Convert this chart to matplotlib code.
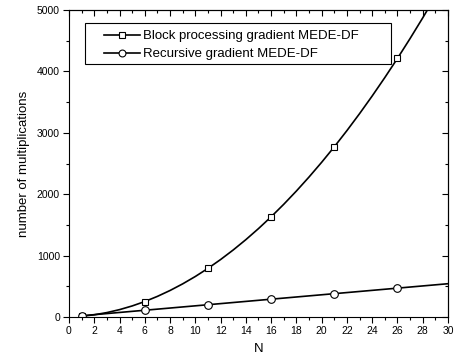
import matplotlib
matplotlib.use("Agg")
import matplotlib.pyplot as plt
from matplotlib.ticker import MultipleLocator
from matplotlib.patches import Rectangle

plt.rcParams['font.family'] = ['Liberation Sans', 'DejaVu Sans']

N = list(range(1, 31))
block = [12, 36, 72, 120, 180, 252, 336, 432, 540, 660, 792, 936, 1092, 1260, 1440,
         1632, 1836, 2052, 2280, 2520, 2772, 3036, 3312, 3600, 3900, 4212, 4536, 4872,
         5220, 5580]
recursive = [20, 38, 56, 74, 92, 110, 128, 146, 164, 182, 200, 218, 236, 254, 272,
             290, 308, 326, 344, 362, 380, 398, 416, 434, 452, 470, 488, 506, 524, 542]
labels = ["Block processing gradient MEDE-DF", "Recursive gradient MEDE-DF"]

W, H = 456, 359
fig = plt.figure(figsize=(W/100, H/100), dpi=100)
ax = fig.add_axes([69/W, 1-317/H, (448-69)/W, (317-10)/H])

ax.plot(N, block, color='black', lw=1.2, marker='s', markevery=(0, 5), ms=5,
        mfc='white', mec='black', mew=0.8, label=labels[0])
ax.plot(N, recursive, color='black', lw=1.2, marker='o', markevery=(0, 5), ms=5.5,
        mfc='white', mec='black', mew=0.8, label=labels[1])

ax.set_xlim(0, 30)
ax.set_ylim(0, 5000)
ax.xaxis.set_major_locator(MultipleLocator(2))
ax.xaxis.set_minor_locator(MultipleLocator(1))
ax.yaxis.set_major_locator(MultipleLocator(1000))
ax.yaxis.set_minor_locator(MultipleLocator(500))
ax.tick_params(which='both', direction='out', labelsize=7.5, top=False, right=False, width=0.8, pad=2.5)
ax.tick_params(which='major', length=4)
ax.tick_params(which='minor', length=2.5)

sec_x = ax.secondary_xaxis('top')
sec_x.xaxis.set_major_locator(MultipleLocator(2))
sec_x.xaxis.set_minor_locator(MultipleLocator(1))
sec_x.tick_params(which='both', direction='in', labeltop=False, width=0.8)
sec_x.tick_params(which='major', length=4)
sec_x.tick_params(which='minor', length=2.5)
sec_y = ax.secondary_yaxis('right')
sec_y.yaxis.set_major_locator(MultipleLocator(1000))
sec_y.yaxis.set_minor_locator(MultipleLocator(500))
sec_y.tick_params(which='both', direction='in', labelright=False, width=0.8)
sec_y.tick_params(which='major', length=4)
sec_y.tick_params(which='minor', length=2.5)

for s in ax.spines.values():
    s.set_linewidth(0.8)

ax.set_xlabel("N", fontsize=9.5, labelpad=5)
ax.set_ylabel("number of multiplications", fontsize=9.5, labelpad=5)

leg = ax.legend(loc='upper left', bbox_to_anchor=(104/W, 1-30/H),
                bbox_transform=fig.transFigure, fontsize=9.5, frameon=False,
                handlelength=2.7, borderpad=0, borderaxespad=0,
                labelspacing=0.45, handletextpad=0.25, markerscale=0.9)

fig.patches.append(Rectangle((85/W, 1-64/H), (391-85)/W, (64-23)/H,
                             transform=fig.transFigure, fill=False,
                             edgecolor='black', lw=0.8, zorder=5))

fig.savefig("out.png", dpi=100)
